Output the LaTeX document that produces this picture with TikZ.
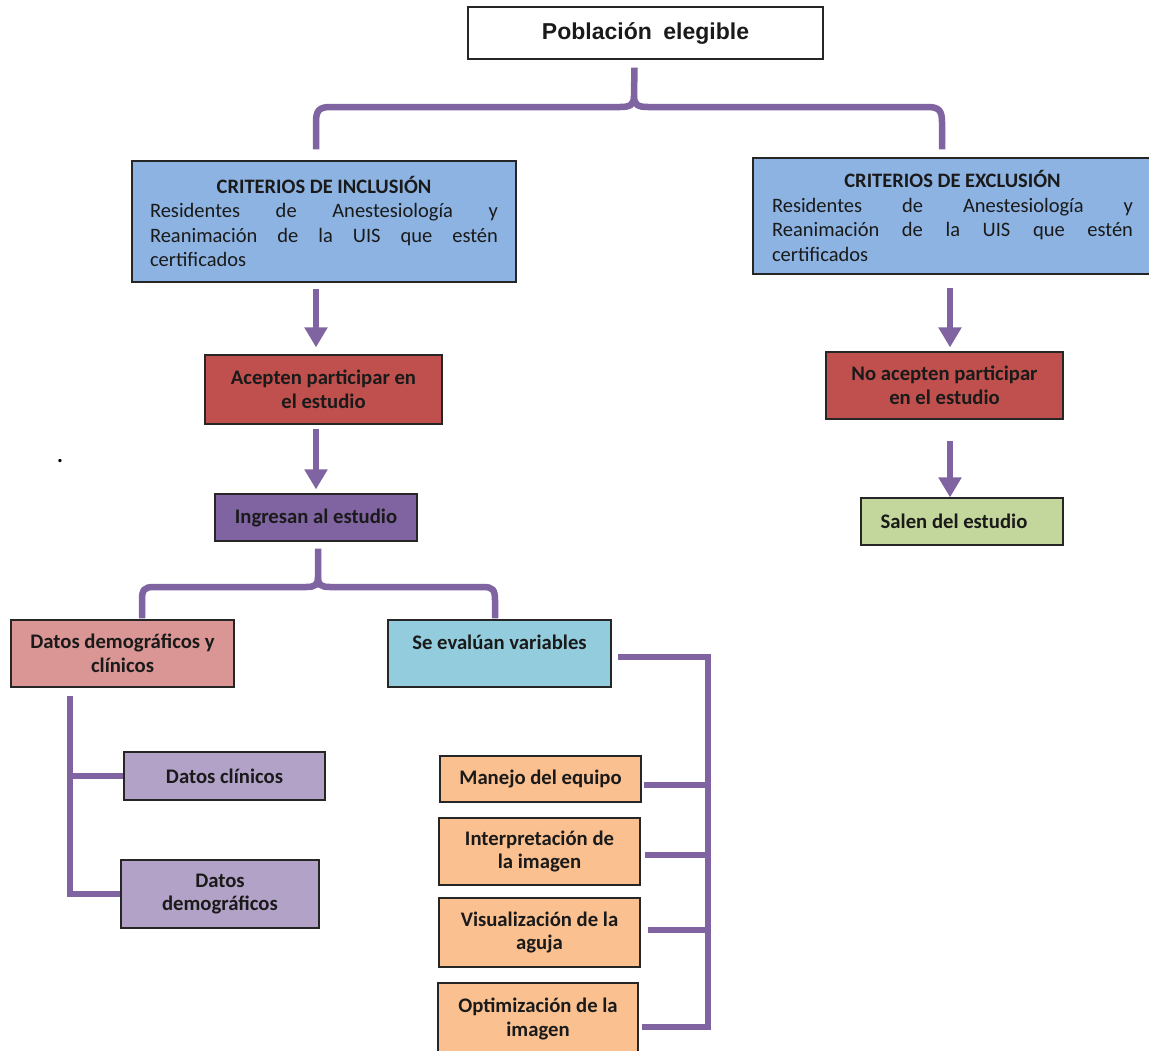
\documentclass[tikz,border=0pt]{standalone}
\usepackage{fontspec}
\setmainfont{Carlito}
\newfontfamily\arialf{Liberation Sans}
\usetikzlibrary{arrows.meta}
\definecolor{cblue}{HTML}{8DB3E2}
\definecolor{cred}{HTML}{C0504D}
\definecolor{cviolet}{HTML}{8064A2}
\definecolor{cgreen}{HTML}{C3D69B}
\definecolor{cpink}{HTML}{D99694}
\definecolor{ccyan}{HTML}{93CDDD}
\definecolor{clilac}{HTML}{B3A2C7}
\definecolor{corange}{HTML}{FAC090}
\definecolor{cline}{HTML}{8064A2}
\definecolor{ctext}{HTML}{1A1A1A}
\begin{document}
\begin{tikzpicture}[x=1pt,y=-1pt,
  box/.style={draw=black!85, line width=1.2pt, inner sep=0pt, align=center, text=ctext,
    font=\fontsize{20.7}{23.5}\selectfont\bfseries},
  crit/.style={draw=black!85, line width=1.2pt, inner sep=0pt, align=center, text=ctext, fill=cblue,
    font=\fontsize{20.5}{24.5}\selectfont},
  conn/.style={draw=cline, line width=6.5pt},
  arr/.style={draw=cline, line width=6.5pt, -{Triangle[width=22pt,length=20pt]}}
]
\useasboundingbox (0,0) rectangle (1149,1050);
\fill[white] (0,0) rectangle (1149,1050);

% nodes
\node[box, minimum width=355pt, minimum height=52pt, font=\arialf\bfseries\fontsize{23}{26}\selectfont]
  (pob) at (645.5,33) {Población\hspace{0.5em}elegible};

\node[crit, minimum width=384pt, minimum height=121pt] (incl) at (324,221.5)
  {{\bfseries CRITERIOS DE INCLUSIÓN}\\
   \hbox to 348pt{Residentes\hfill de\hfill Anestesiología\hfill y}\\
   \hbox to 348pt{Reanimación\hfill de\hfill la\hfill UIS\hfill que\hfill estén}\\
   \hbox to 348pt{certificados\hfill}};

\node[crit, minimum width=399pt, minimum height=116pt] (excl) at (952.5,216)
  {{\bfseries CRITERIOS DE EXCLUSIÓN}\\
   \hbox to 361pt{Residentes\hfill de\hfill Anestesiología\hfill y}\\
   \hbox to 361pt{Reanimación\hfill de\hfill la\hfill UIS\hfill que\hfill estén}\\
   \hbox to 361pt{certificados\hfill}};

\node[box, fill=cred, minimum width=237pt, minimum height=69pt] (acep) at (323.5,389.5)
  {Acepten participar en\\el estudio};
\node[box, fill=cviolet, minimum width=202pt, minimum height=47pt] (ing) at (316,517.5)
  {Ingresan al estudio};
\node[box, fill=cred, minimum width=237pt, minimum height=67pt] (noac) at (944.5,385.5)
  {No acepten participar\\en el estudio};
\node[box, fill=cgreen, minimum width=202pt, minimum height=47pt] (sal) at (962,521.5)
  {\hspace*{-16pt}Salen del estudio};

\node[box, fill=cpink, minimum width=223pt, minimum height=67pt] (dem) at (122.5,653.5)
  {Datos demográficos y\\clínicos};
\node[box, fill=ccyan, minimum width=223pt, minimum height=67pt] (sev) at (499.5,653.5)
  {Se evalúan variables\\ \mbox{}};

\node[box, fill=clilac, minimum width=201pt, minimum height=48pt] (dc) at (224.5,776)
  {Datos clínicos};
\node[box, fill=clilac, minimum width=198pt, minimum height=68pt] (dd) at (220,894)
  {Datos\\demográficos};

\node[box, fill=corange, minimum width=201pt, minimum height=46pt] (man) at (540.5,779)
  {Manejo del equipo};
\node[box, fill=corange, minimum width=201pt, minimum height=67pt] (int) at (539.5,851.5)
  {Interpretación de\\la imagen};
\node[box, fill=corange, minimum width=201pt, minimum height=69pt] (vis) at (539.5,932.5)
  {Visualización de la\\aguja};
\node[box, fill=corange, minimum width=200pt, minimum height=72pt] (opt) at (538,1019)
  {Optimización de la\\imagen};

\node[font=\fontsize{22}{22}\selectfont\bfseries, inner sep=0pt] (dot) at (60,461) {.};

% brace 1
\coordinate (b1) at ([xshift=-11pt,yshift=-8pt]pob.south);
\coordinate (b1l) at ([xshift=-8pt,yshift=11pt]incl.north);
\coordinate (b1r) at ([xshift=-10.5pt,yshift=8pt]excl.north);
\draw[conn] (b1) -- (634,96) .. controls (634,105) and (630,107) .. (620,107)
  -- (330,107) .. controls (319,107) and (316,111) .. (316,122) -- (b1l);
\draw[conn] (634,96) .. controls (634,105) and (638,107) .. (648,107)
  -- (928,107) .. controls (939,107) and (942,111) .. (942,122) -- (b1r);

% arrows
\draw[arr] ([xshift=-8pt,yshift=-6pt]incl.south) -- ([xshift=-7.5pt,yshift=7pt]acep.north);
\draw[arr] ([xshift=-7.5pt,yshift=-4pt]acep.south) -- ([xshift=0pt,yshift=4pt]ing.north);
\draw[arr] ([xshift=-2.5pt,yshift=-13pt]excl.south) -- ([xshift=5.5pt,yshift=4pt]noac.north);
\draw[arr] ([xshift=5.5pt,yshift=-21pt]noac.south) -- ([xshift=-12pt,yshift=0pt]sal.north);

% brace 2
\coordinate (b2) at ([xshift=2pt,yshift=-7pt]ing.south);
\coordinate (b2l) at ([xshift=19.5pt,yshift=1pt]dem.north);
\coordinate (b2r) at ([xshift=-4.5pt,yshift=1pt]sev.north);
\draw[conn] (b2) -- (318,577) .. controls (318,585) and (315,587) .. (306,587)
  -- (154,587) .. controls (144,587) and (142,590) .. (142,600) -- (b2l);
\draw[conn] (318,577) .. controls (318,585) and (321,587) .. (330,587)
  -- (483,587) .. controls (493,587) and (495,590) .. (495,600) -- (b2r);

% left tree
\coordinate (lt) at ([xshift=-52.5pt,yshift=-8pt]dem.south);
\draw[conn] (lt) |- (dd.west);
\draw[conn] (70,776) -- (dc.west);

% right tree
\coordinate (rt) at ([xshift=6pt,yshift=-3.5pt]sev.east);
\coordinate (rc) at (708,657);
\draw[conn] (rt) -- (rc) |- ([xshift=3pt,yshift=-8pt]opt.east);
\draw[conn] ([xshift=2pt,yshift=-6pt]man.east) -- (708,785);
\draw[conn] ([xshift=4pt,yshift=-3.5pt]int.east) -- (708,855);
\draw[conn] ([xshift=7pt,yshift=2.5pt]vis.east) -- (708,930);
\end{tikzpicture}
\end{document}
